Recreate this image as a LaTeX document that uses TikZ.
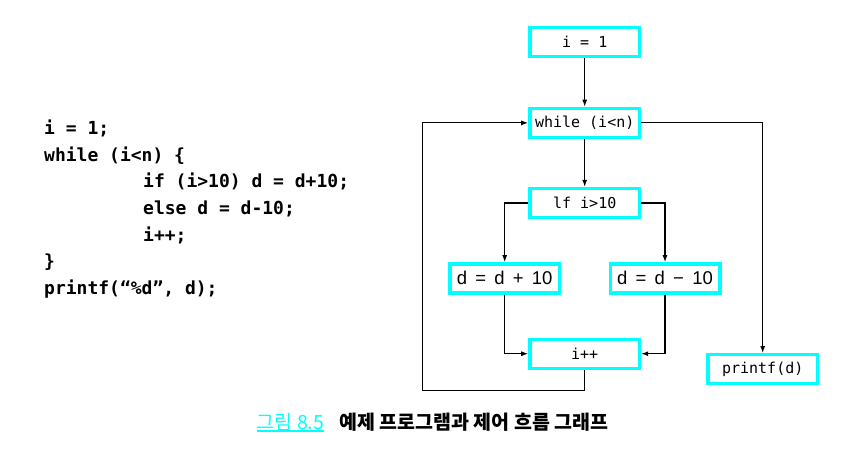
\documentclass[tikz,border=0pt]{standalone}
\usepackage{fontspec}
\setmonofont{DejaVu Sans Mono}
\newfontfamily\boxsans{Liberation Sans}[WordSpace=1.6]
\newfontfamily\krfont{Noto Sans CJK KR}
\usetikzlibrary{arrows.meta}

\definecolor{boxcyan}{RGB}{0,255,255}

\tikzset{
  block/.style={draw=boxcyan, line width=3.4pt, minimum width=109.6pt, minimum height=29pt, inner sep=0pt, font=\ttfamily\fontsize{15}{18}\selectfont},
  sblock/.style={block, font=\boxsans\fontsize{18.5}{20}\selectfont},
  flow/.style={line width=1.1pt, -{Latex[length=7pt,width=5pt]}},
  codeline/.style={anchor=base west, inner sep=0pt, font=\ttfamily\bfseries\fontsize{18}{20}\selectfont},
  caption/.style={anchor=base west, inner sep=0pt, font=\krfont\fontsize{19.5}{22}\selectfont},
}

\begin{document}
\begin{tikzpicture}[x=1pt,y=-1pt]
	\useasboundingbox (0,0) rectangle (856,450);
	% program text
	\foreach \ind/\txt [count=\k] in {0/{i = 1;}, 0/{while (i<n) \{}, 99/{if (i>10) d = d+10;}, 99/{else d = d-10;}, 99/{i++;}, 0/{\}}, 0/{printf(“\%d”, d);}}
		\node[codeline] (code\k) at (44+\ind, 108+26.65*\k) {\txt};
	% control flow graph
	\node[block] (init) at (584.7,41.7) {i = 1};
	\node[block] (loop) at (584.7,122.9) {while (i<n)};
	\node[block] (test) at (584.7,203) {lf i>10};
	\node[sblock] (plus) at (504.7,278.3) {d = d + 10};
	\node[sblock] (minus) at (665,278.3) {d = d − 10};
	\node[block] (inc) at (584.7,353.7) {i++};
	\node[block] (out) at (762.7,369.2) {printf(d)};
	\coordinate (back) at (422.7,390.7);
	\draw[flow] (init) -- (loop);
	\draw[flow] (loop) -- (test);
	\draw[flow] (test.west) -| (plus.north);
	\draw[flow] (test.east) -| (minus.north);
	\draw[flow] (plus.south) |- (inc.west);
	\draw[flow] (minus.south) |- (inc.east);
	\draw[flow] (inc.south) |- (back) |- (loop.west);
	\draw[flow] (loop.east) -| (out.north);
	% caption
	\node[caption, text=boxcyan] (capnum) at (256.7,429) {그림 8.5};
	\draw[boxcyan, line width=1.3pt] ([yshift=-0.6pt]capnum.south west) -- ([yshift=-0.6pt]capnum.south east);
	\node[caption, font=\krfont\bfseries\fontsize{19.5}{22}\selectfont] (captext) at (339,429) {예제 프로그램과 제어 흐름 그래프};
\end{tikzpicture}
\end{document}
